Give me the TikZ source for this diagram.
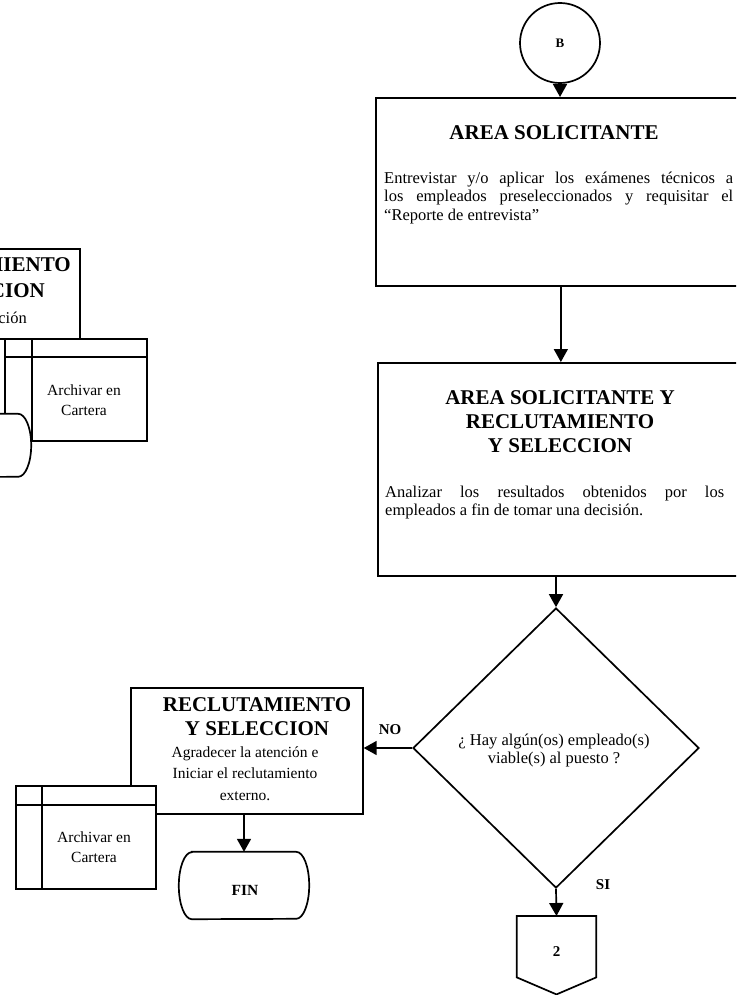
\documentclass[tikz,border=0pt]{standalone}
\usepackage{fontspec}
\setmainfont{Liberation Serif}
\usetikzlibrary{arrows.meta,shapes.geometric}

\tikzset{
  ln/.style={line width=1.7pt},
  box/.style={draw, ln, fill=white, rectangle, inner sep=0pt},
  arr/.style={ln, -{Triangle[length=13pt,width=14pt]}},
  ttl/.style={font=\fontsize{21}{24}\selectfont\bfseries, align=center, inner sep=0pt},
  txt/.style={font=\fontsize{16.5}{18.5}\selectfont, inner sep=0pt},
  ctxt/.style={font=\fontsize{15.5}{21.5}\selectfont, align=center, inner sep=0pt},
  atxt/.style={font=\fontsize{15.5}{20}\selectfont, align=center, inner sep=0pt},
  lbl/.style={font=\fontsize{15}{18}\selectfont\bfseries, inner sep=0pt},
  termspace/.style={rectangle, inner sep=0pt, minimum width=130pt, minimum height=67pt},
}
% outline of a terminator: flat top and bottom, half-ellipse ends
\newcommand{\termoutline}[2]{%
  \draw[ln, fill=white] ([xshift=13pt]#1.north west) -- ([xshift=-13pt]#1.north east)
    arc[start angle=90, end angle=-90, x radius=13pt, y radius=#2]
    -- ([xshift=13pt]#1.south west)
    arc[start angle=-90, end angle=-270, x radius=13pt, y radius=#2] -- cycle;}

\begin{document}
\begin{tikzpicture}[x=1pt, y=-1pt]
\useasboundingbox (0,0) rectangle (736,995);
\clip (0,0) rectangle (736,995);

% ---------- left column (continued from previous page) ----------
\node[box, minimum width=232pt, minimum height=90pt, anchor=north east] (rs0) at (81,248) {};
\node[ttl, anchor=east] (rs0a) at (71,265) {MIENTO};
\node[ttl, anchor=east] (rs0b) at (45,291) {CION};
\node[txt, anchor=east] (rs0c) at (27,318) {ción};

\node[box, minimum width=142pt, minimum height=102pt, anchor=north west] (arch0) at (4,338) {};
\draw[ln] ([yshift=-19pt]arch0.north west) -- ([yshift=-19pt]arch0.north east);
\draw[ln] ([xshift=28pt]arch0.north west) -- ([xshift=28pt]arch0.south west);
\node[atxt] (arch0t) at (84,400) {Archivar en\\Cartera};

\node[termspace, minimum height=63pt] (end0) at (-34,445.5) {};
\termoutline{end0}{31.5pt}

% ---------- main flow ----------
\node[draw, ln, circle, minimum size=80pt, inner sep=0pt,
      font=\fontsize{13}{15}\selectfont\bfseries] (B) at (560,43) {B};

\node[box, minimum width=370pt, minimum height=188pt, anchor=north west] (sol) at (375,97) {};
\node[ttl] (solT) at (554,133) {AREA SOLICITANTE};
\node[txt, anchor=base west] (solX) at (384,183) {\vtop{%
  \hbox{\makebox[349pt][s]{Entrevistar y/o aplicar los exámenes técnicos a}}
  \hbox{\makebox[349pt][s]{los empleados preseleccionados y requisitar el}}
  \hbox{“Reporte de entrevista”}}};

\node[box, minimum width=368pt, minimum height=213pt, anchor=north west] (ana) at (377,362) {};
\node[ttl] (anaT) at (560,422) {AREA SOLICITANTE Y\\RECLUTAMIENTO\\Y SELECCION};
\node[txt, anchor=base west] (anaX) at (385,497) {\vtop{%
  \hbox{\makebox[339pt][s]{Analizar los resultados obtenidos por los}}
  \hbox{empleados a fin de tomar una decisión.}}};

\node[draw, ln, diamond, minimum width=286pt, minimum height=280pt, inner sep=0pt] (dia) at (556,748) {};
\node[font=\fontsize{16.5}{18}\selectfont, align=center, inner sep=0pt] (diaT) at (554,751)
  {¿ Hay algún(os) empleado(s)\\viable(s) al puesto ?};

\node[box, minimum width=232pt, minimum height=126pt, anchor=north west] (rec) at (130,687) {};
\node[ttl] (recT) at (257,716.5) {RECLUTAMIENTO\\Y SELECCION};
\node[ctxt] (recX) at (245,773.5) {Agradecer la atención e\\Iniciar el reclutamiento\\externo.};

\node[box, minimum width=140pt, minimum height=103pt, anchor=north west] (arch) at (15,785) {};
\draw[ln] ([yshift=-20pt]arch.north west) -- ([yshift=-20pt]arch.north east);
\draw[ln] ([xshift=27pt]arch.north west) -- ([xshift=27pt]arch.south west);
\node[atxt] (archT) at (94,847) {Archivar en\\Cartera};

\node[termspace] (fin) at (244,885.5) {};
\termoutline{fin}{33.5pt}
\node[lbl, font=\fontsize{15.5}{18}\selectfont\bfseries] (finT) at (245,890) {FIN};

% off-page connector
\node[inner sep=0pt, minimum width=79pt, minimum height=61pt, anchor=north] (off) at (556.5,916) {};
\draw[ln] (off.north west) -- (off.north east) -- (off.south east)
  -- ([yshift=-17pt]off.south) -- (off.south west) -- cycle;
\node[lbl] (offT) at (556.5,952) {2};

% ---------- connectors ----------
\draw[arr] (B.south) -- (B.south |- sol.north);
\draw[arr] (sol.south) -- (sol.south |- ana.north);
\draw[arr] (dia.north |- ana.south) -- (dia.north);
\draw[arr] (dia.west) -- (dia.west -| rec.east);
\draw[arr] (fin.north |- rec.south) -- (fin.north);
\draw[arr] (dia.south) -- (off.north);

\node[lbl] (no) at (390,730) {NO};
\node[lbl] (si) at (603,885) {SI};
\end{tikzpicture}
\end{document}
